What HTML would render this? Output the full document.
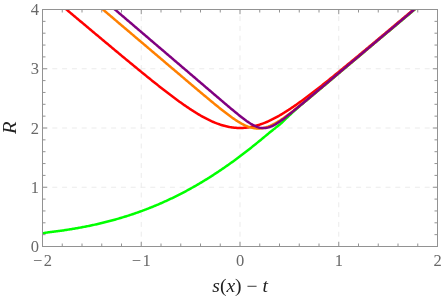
<!DOCTYPE html>
<html><head><meta charset="utf-8"><title>plot</title>
<style>
html,body{margin:0;padding:0;background:#ffffff;}
body{width:442px;height:301px;overflow:hidden;position:relative;font-family:"Liberation Serif",serif;}
</style></head><body>
<svg width="442" height="301" viewBox="0 0 442 301" style="position:absolute;left:0;top:0;will-change:transform">
<defs><clipPath id="c"><rect x="42.50" y="9.50" width="395.00" height="237.00"/></clipPath></defs>
<line x1="141.25" y1="246.50" x2="141.25" y2="9.50" stroke="#ebebeb" stroke-width="1" stroke-dasharray="5 4.8"/>
<line x1="240.00" y1="246.50" x2="240.00" y2="9.50" stroke="#ebebeb" stroke-width="1" stroke-dasharray="5 4.8"/>
<line x1="338.75" y1="246.50" x2="338.75" y2="9.50" stroke="#ebebeb" stroke-width="1" stroke-dasharray="5 4.8"/>
<line x1="42.50" y1="187.25" x2="437.50" y2="187.25" stroke="#ebebeb" stroke-width="1" stroke-dasharray="5 4.8"/>
<line x1="42.50" y1="128.00" x2="437.50" y2="128.00" stroke="#ebebeb" stroke-width="1" stroke-dasharray="5 4.8"/>
<line x1="42.50" y1="68.75" x2="437.50" y2="68.75" stroke="#ebebeb" stroke-width="1" stroke-dasharray="5 4.8"/>
<g clip-path="url(#c)" fill="none" stroke-width="2.50" stroke-linejoin="round">
<path d="M37.56,234.53 L38.55,234.29 L39.54,234.06 L40.53,233.84 L41.51,233.61 L42.50,233.40 L43.49,233.19 L44.48,232.99 L45.46,232.81 L46.45,232.64 L47.44,232.48 L48.43,232.33 L49.41,232.18 L50.40,232.04 L51.39,231.91 L52.38,231.78 L53.36,231.66 L54.35,231.53 L55.34,231.41 L56.33,231.29 L57.31,231.18 L58.30,231.05 L59.29,230.93 L60.28,230.81 L61.26,230.68 L62.25,230.54 L63.24,230.41 L64.23,230.26 L65.21,230.11 L66.20,229.95 L67.19,229.80 L68.18,229.64 L69.16,229.48 L70.15,229.32 L71.14,229.16 L72.12,229.00 L73.11,228.83 L74.10,228.67 L75.09,228.50 L76.08,228.33 L77.06,228.16 L78.05,227.98 L79.04,227.81 L80.03,227.63 L81.01,227.45 L82.00,227.26 L82.99,227.08 L83.98,226.89 L84.96,226.70 L85.95,226.51 L86.94,226.31 L87.92,226.11 L88.91,225.91 L89.90,225.70 L90.89,225.49 L91.88,225.28 L92.86,225.07 L93.85,224.85 L94.84,224.63 L95.83,224.41 L96.81,224.19 L97.80,223.96 L98.79,223.73 L99.78,223.50 L100.76,223.27 L101.75,223.03 L102.74,222.80 L103.73,222.56 L104.71,222.31 L105.70,222.07 L106.69,221.82 L107.68,221.57 L108.66,221.31 L109.65,221.05 L110.64,220.79 L111.63,220.53 L112.61,220.26 L113.60,219.99 L114.59,219.72 L115.58,219.44 L116.56,219.16 L117.55,218.88 L118.54,218.60 L119.53,218.31 L120.51,218.02 L121.50,217.72 L122.49,217.42 L123.48,217.12 L124.46,216.82 L125.45,216.51 L126.44,216.20 L127.42,215.88 L128.41,215.57 L129.40,215.25 L130.39,214.92 L131.38,214.60 L132.36,214.27 L133.35,213.94 L134.34,213.60 L135.32,213.26 L136.31,212.92 L137.30,212.57 L138.29,212.23 L139.27,211.88 L140.26,211.52 L141.25,211.17 L142.24,210.80 L143.23,210.44 L144.21,210.07 L145.20,209.70 L146.19,209.32 L147.18,208.95 L148.16,208.56 L149.15,208.18 L150.14,207.78 L151.12,207.39 L152.11,206.99 L153.10,206.59 L154.09,206.18 L155.07,205.78 L156.06,205.36 L157.05,204.95 L158.04,204.53 L159.02,204.10 L160.01,203.67 L161.00,203.24 L161.99,202.81 L162.97,202.37 L163.96,201.93 L164.95,201.48 L165.94,201.04 L166.93,200.58 L167.91,200.13 L168.90,199.67 L169.89,199.21 L170.88,198.74 L171.86,198.27 L172.85,197.80 L173.84,197.32 L174.82,196.84 L175.81,196.35 L176.80,195.86 L177.79,195.36 L178.77,194.87 L179.76,194.36 L180.75,193.86 L181.74,193.35 L182.72,192.83 L183.71,192.31 L184.70,191.79 L185.69,191.27 L186.68,190.74 L187.66,190.20 L188.65,189.67 L189.64,189.12 L190.62,188.58 L191.61,188.03 L192.60,187.48 L193.59,186.92 L194.57,186.36 L195.56,185.80 L196.55,185.23 L197.54,184.65 L198.52,184.08 L199.51,183.50 L200.50,182.91 L201.49,182.32 L202.47,181.73 L203.46,181.13 L204.45,180.53 L205.44,179.93 L206.42,179.32 L207.41,178.70 L208.40,178.09 L209.39,177.47 L210.38,176.84 L211.36,176.21 L212.35,175.58 L213.34,174.94 L214.32,174.30 L215.31,173.66 L216.30,173.01 L217.29,172.36 L218.27,171.70 L219.26,171.04 L220.25,170.38 L221.24,169.71 L222.22,169.04 L223.21,168.36 L224.20,167.68 L225.19,167.00 L226.17,166.31 L227.16,165.62 L228.15,164.93 L229.14,164.23 L230.12,163.53 L231.11,162.83 L232.10,162.12 L233.09,161.40 L234.07,160.69 L235.06,159.97 L236.05,159.25 L237.04,158.52 L238.03,157.79 L239.01,157.05 L240.00,156.31 L240.99,155.57 L241.97,154.82 L242.96,154.07 L243.95,153.32 L244.94,152.55 L245.93,151.79 L246.91,151.02 L247.90,150.25 L248.89,149.47 L249.87,148.70 L250.86,147.91 L251.85,147.13 L252.84,146.34 L253.82,145.54 L254.81,144.75 L255.80,143.95 L256.79,143.15 L257.77,142.35 L258.76,141.54 L259.75,140.73 L260.74,139.92 L261.72,139.11 L262.71,138.29 L263.70,137.48 L264.69,136.66 L265.67,135.84 L266.66,135.02 L267.65,134.20 L268.64,133.37 L269.62,132.55 L270.61,131.73 L271.60,130.93 L272.59,130.15 L273.57,129.38 L274.56,128.63 L275.55,127.87 L276.54,127.10 L277.52,126.32 L278.51,125.53 L279.50,124.71 L280.49,123.86 L281.48,122.97 L282.46,122.05 L283.45,121.11 L284.44,120.15 L285.43,119.18 L286.41,118.21 L287.40,117.24 L288.39,116.29 L289.38,115.37 L290.36,114.46 L291.35,113.57 L292.34,112.67 L293.32,111.78 L294.31,110.89 L295.30,110.00 L296.29,109.11 L297.27,108.23 L298.26,107.36 L299.25,106.51 L300.24,105.66 L301.22,104.83 L302.21,104.00 L303.20,103.17 L304.19,102.36 L305.17,101.54 L306.16,100.72 L307.15,99.91 L308.14,99.09 L309.12,98.26 L310.11,97.43 L311.10,96.60 L312.09,95.76 L313.07,94.93 L314.06,94.10 L315.05,93.27 L316.04,92.44 L317.02,91.61 L318.01,90.78 L319.00,89.96 L319.99,89.13 L320.97,88.30 L321.96,87.47 L322.95,86.65 L323.94,85.82 L324.92,84.99 L325.91,84.17 L326.90,83.34 L327.89,82.51 L328.88,81.68 L329.86,80.85 L330.85,80.02 L331.84,79.19 L332.82,78.36 L333.81,77.52 L334.80,76.69 L335.79,75.86 L336.77,75.02 L337.76,74.18 L338.75,73.34 L339.74,72.51 L340.72,71.67 L341.71,70.84 L342.70,70.01 L343.69,69.18 L344.67,68.35 L345.66,67.52 L346.65,66.69 L347.64,65.86 L348.62,65.04 L349.61,64.21 L350.60,63.39 L351.59,62.56 L352.57,61.74 L353.56,60.91 L354.55,60.08 L355.54,59.26 L356.52,58.43 L357.51,57.60 L358.50,56.77 L359.49,55.94 L360.47,55.10 L361.46,54.27 L362.45,53.43 L363.44,52.59 L364.42,51.75 L365.41,50.91 L366.40,50.07 L367.39,49.22 L368.38,48.38 L369.36,47.54 L370.35,46.71 L371.34,45.87 L372.32,45.03 L373.31,44.20 L374.30,43.37 L375.29,42.53 L376.27,41.70 L377.26,40.87 L378.25,40.05 L379.24,39.22 L380.22,38.40 L381.21,37.57 L382.20,36.75 L383.19,35.93 L384.17,35.11 L385.16,34.30 L386.15,33.48 L387.14,32.66 L388.12,31.84 L389.11,31.02 L390.10,30.19 L391.09,29.36 L392.07,28.54 L393.06,27.71 L394.05,26.88 L395.04,26.05 L396.02,25.22 L397.01,24.38 L398.00,23.55 L398.99,22.72 L399.97,21.89 L400.96,21.05 L401.95,20.22 L402.94,19.39 L403.92,18.56 L404.91,17.73 L405.90,16.90 L406.89,16.07 L407.88,15.24 L408.86,14.42 L409.85,13.59 L410.84,12.77 L411.82,11.95 L412.81,11.13 L413.80,10.30 L414.79,9.47 L415.77,8.63 L416.76,7.78 L417.75,6.93 L418.74,6.07 L419.72,5.21 L420.71,4.34 L421.70,3.47 L422.69,2.60 L423.67,1.72 L424.66,0.85 L425.65,-0.02 L426.64,-0.88 L427.62,-1.74 L428.61,-2.60 L429.60,-3.45 L430.59,-4.29 L431.57,-5.13 L432.56,-5.95 L433.55,-6.77 L434.54,-7.57 L435.52,-8.36 L436.51,-9.13 L437.50,-9.90 L438.49,-10.64 L439.47,-11.37 L440.46,-12.08 L441.45,-12.79 L442.44,-13.50" stroke="#00ff00"/>
<path d="M37.56,-14.77 L38.55,-13.93 L39.54,-13.10 L40.53,-12.27 L41.51,-11.44 L42.50,-10.61 L43.49,-9.78 L44.48,-8.95 L45.46,-8.12 L46.45,-7.29 L47.44,-6.46 L48.43,-5.63 L49.41,-4.80 L50.40,-3.97 L51.39,-3.14 L52.38,-2.31 L53.36,-1.48 L54.35,-0.65 L55.34,0.18 L56.33,1.01 L57.31,1.84 L58.30,2.67 L59.29,3.50 L60.28,4.33 L61.26,5.16 L62.25,5.99 L63.24,6.82 L64.23,7.65 L65.21,8.48 L66.20,9.31 L67.19,10.14 L68.18,10.97 L69.16,11.80 L70.15,12.63 L71.14,13.46 L72.12,14.29 L73.11,15.12 L74.10,15.95 L75.09,16.77 L76.08,17.60 L77.06,18.43 L78.05,19.26 L79.04,20.09 L80.03,20.92 L81.01,21.75 L82.00,22.58 L82.99,23.41 L83.98,24.24 L84.96,25.06 L85.95,25.89 L86.94,26.72 L87.92,27.55 L88.91,28.38 L89.90,29.20 L90.89,30.03 L91.88,30.86 L92.86,31.69 L93.85,32.52 L94.84,33.34 L95.83,34.17 L96.81,35.00 L97.80,35.82 L98.79,36.65 L99.78,37.48 L100.76,38.30 L101.75,39.13 L102.74,39.95 L103.73,40.78 L104.71,41.61 L105.70,42.43 L106.69,43.26 L107.68,44.08 L108.66,44.91 L109.65,45.73 L110.64,46.55 L111.63,47.38 L112.61,48.20 L113.60,49.02 L114.59,49.85 L115.58,50.67 L116.56,51.49 L117.55,52.31 L118.54,53.13 L119.53,53.96 L120.51,54.78 L121.50,55.60 L122.49,56.42 L123.48,57.23 L124.46,58.05 L125.45,58.87 L126.44,59.69 L127.42,60.51 L128.41,61.32 L129.40,62.14 L130.39,62.95 L131.38,63.77 L132.36,64.58 L133.35,65.40 L134.34,66.21 L135.32,67.02 L136.31,67.83 L137.30,68.64 L138.29,69.45 L139.27,70.26 L140.26,71.06 L141.25,71.87 L142.24,72.68 L143.23,73.48 L144.21,74.28 L145.20,75.09 L146.19,75.89 L147.18,76.69 L148.16,77.48 L149.15,78.28 L150.14,79.08 L151.12,79.87 L152.11,80.66 L153.10,81.45 L154.09,82.24 L155.07,83.03 L156.06,83.81 L157.05,84.60 L158.04,85.38 L159.02,86.16 L160.01,86.94 L161.00,87.71 L161.99,88.48 L162.97,89.25 L163.96,90.02 L164.95,90.79 L165.94,91.55 L166.93,92.31 L167.91,93.07 L168.90,93.82 L169.89,94.57 L170.88,95.32 L171.86,96.07 L172.85,96.81 L173.84,97.54 L174.82,98.28 L175.81,99.01 L176.80,99.73 L177.79,100.46 L178.77,101.17 L179.76,101.89 L180.75,102.59 L181.74,103.30 L182.72,104.00 L183.71,104.69 L184.70,105.38 L185.69,106.06 L186.68,106.73 L187.66,107.40 L188.65,108.07 L189.64,108.73 L190.62,109.38 L191.61,110.02 L192.60,110.66 L193.59,111.29 L194.57,111.91 L195.56,112.53 L196.55,113.13 L197.54,113.73 L198.52,114.32 L199.51,114.91 L200.50,115.48 L201.49,116.04 L202.47,116.60 L203.46,117.14 L204.45,117.67 L205.44,118.20 L206.42,118.71 L207.41,119.21 L208.40,119.70 L209.39,120.18 L210.38,120.65 L211.36,121.11 L212.35,121.55 L213.34,121.98 L214.32,122.40 L215.31,122.80 L216.30,123.20 L217.29,123.57 L218.27,123.94 L219.26,124.29 L220.25,124.62 L221.24,124.94 L222.22,125.25 L223.21,125.54 L224.20,125.82 L225.19,126.08 L226.17,126.32 L227.16,126.55 L228.15,126.76 L229.14,126.96 L230.12,127.14 L231.11,127.30 L232.10,127.45 L233.09,127.58 L234.07,127.69 L235.06,127.78 L236.05,127.86 L237.04,127.92 L238.03,127.97 L239.01,127.99 L240.00,128.00 L240.99,127.99 L241.97,127.97 L242.96,127.92 L243.95,127.86 L244.94,127.78 L245.93,127.69 L246.91,127.58 L247.90,127.45 L248.89,127.30 L249.87,127.14 L250.86,126.96 L251.85,126.76 L252.84,126.55 L253.82,126.32 L254.81,126.08 L255.80,125.82 L256.79,125.54 L257.77,125.25 L258.76,124.94 L259.75,124.62 L260.74,124.29 L261.72,123.94 L262.71,123.57 L263.70,123.20 L264.69,122.80 L265.67,122.40 L266.66,121.98 L267.65,121.55 L268.64,121.11 L269.62,120.65 L270.61,120.18 L271.60,119.70 L272.59,119.21 L273.57,118.71 L274.56,118.20 L275.55,117.67 L276.54,117.14 L277.52,116.60 L278.51,116.04 L279.50,115.48 L280.49,114.91 L281.48,114.32 L282.46,113.73 L283.45,113.13 L284.44,112.53 L285.43,111.91 L286.41,111.29 L287.40,110.66 L288.39,110.02 L289.38,109.38 L290.36,108.73 L291.35,108.07 L292.34,107.40 L293.32,106.73 L294.31,106.06 L295.30,105.38 L296.29,104.69 L297.27,104.00 L298.26,103.30 L299.25,102.59 L300.24,101.89 L301.22,101.17 L302.21,100.46 L303.20,99.73 L304.19,99.01 L305.17,98.28 L306.16,97.54 L307.15,96.81 L308.14,96.07 L309.12,95.32 L310.11,94.57 L311.10,93.82 L312.09,93.07 L313.07,92.31 L314.06,91.55 L315.05,90.79 L316.04,90.02 L317.02,89.25 L318.01,88.48 L319.00,87.71 L319.99,86.94 L320.97,86.16 L321.96,85.38 L322.95,84.60 L323.94,83.81 L324.92,83.03 L325.91,82.24 L326.90,81.45 L327.89,80.66 L328.88,79.87 L329.86,79.08 L330.85,78.28 L331.84,77.48 L332.82,76.69 L333.81,75.89 L334.80,75.09 L335.79,74.28 L336.77,73.48 L337.76,72.68 L338.75,71.87 L339.74,71.06 L340.72,70.26 L341.71,69.45 L342.70,68.64 L343.69,67.83 L344.67,67.02 L345.66,66.21 L346.65,65.40 L347.64,64.58 L348.62,63.77 L349.61,62.95 L350.60,62.14 L351.59,61.32 L352.57,60.51 L353.56,59.69 L354.55,58.87 L355.54,58.05 L356.52,57.23 L357.51,56.42 L358.50,55.60 L359.49,54.78 L360.47,53.96 L361.46,53.13 L362.45,52.31 L363.44,51.49 L364.42,50.67 L365.41,49.85 L366.40,49.02 L367.39,48.20 L368.38,47.38 L369.36,46.55 L370.35,45.73 L371.34,44.91 L372.32,44.08 L373.31,43.26 L374.30,42.43 L375.29,41.61 L376.27,40.78 L377.26,39.95 L378.25,39.13 L379.24,38.30 L380.22,37.48 L381.21,36.65 L382.20,35.82 L383.19,35.00 L384.17,34.17 L385.16,33.34 L386.15,32.52 L387.14,31.69 L388.12,30.86 L389.11,30.03 L390.10,29.20 L391.09,28.38 L392.07,27.55 L393.06,26.72 L394.05,25.89 L395.04,25.06 L396.02,24.24 L397.01,23.41 L398.00,22.58 L398.99,21.75 L399.97,20.92 L400.96,20.09 L401.95,19.26 L402.94,18.43 L403.92,17.60 L404.91,16.77 L405.90,15.95 L406.89,15.12 L407.88,14.29 L408.86,13.46 L409.85,12.63 L410.84,11.80 L411.82,10.97 L412.81,10.14 L413.80,9.31 L414.79,8.48 L415.77,7.65 L416.76,6.82 L417.75,5.99 L418.74,5.16 L419.72,4.33 L420.71,3.50 L421.70,2.67 L422.69,1.84 L423.67,1.01 L424.66,0.18 L425.65,-0.65 L426.64,-1.48 L427.62,-2.31 L428.61,-3.14 L429.60,-3.97 L430.59,-4.80 L431.57,-5.63 L432.56,-6.46 L433.55,-7.29 L434.54,-8.12 L435.52,-8.95 L436.51,-9.78 L437.50,-10.61 L438.49,-11.44 L439.47,-12.27 L440.46,-13.10 L441.45,-13.93 L442.44,-14.77" stroke="#ff0000"/>
<path d="M67.68,-20.42 L68.67,-19.58 L69.66,-18.75 L70.64,-17.91 L71.63,-17.07 L72.62,-16.23 L73.61,-15.39 L74.59,-14.55 L75.58,-13.71 L76.57,-12.88 L77.56,-12.04 L78.54,-11.20 L79.53,-10.36 L80.52,-9.52 L81.51,-8.68 L82.49,-7.84 L83.48,-7.01 L84.47,-6.17 L85.46,-5.33 L86.44,-4.49 L87.43,-3.65 L88.42,-2.81 L89.41,-1.97 L90.39,-1.14 L91.38,-0.30 L92.37,0.54 L93.36,1.38 L94.34,2.22 L95.33,3.06 L96.32,3.89 L97.31,4.73 L98.29,5.57 L99.28,6.41 L100.27,7.25 L101.26,8.09 L102.24,8.93 L103.23,9.76 L104.22,10.60 L105.21,11.44 L106.19,12.28 L107.18,13.12 L108.17,13.96 L109.16,14.80 L110.14,15.63 L111.13,16.47 L112.12,17.31 L113.11,18.15 L114.09,18.99 L115.08,19.83 L116.07,20.67 L117.06,21.50 L118.04,22.34 L119.03,23.18 L120.02,24.02 L121.01,24.86 L121.99,25.70 L122.98,26.53 L123.97,27.37 L124.96,28.21 L125.94,29.05 L126.93,29.89 L127.92,30.73 L128.91,31.57 L129.89,32.40 L130.88,33.24 L131.87,34.08 L132.86,34.92 L133.84,35.76 L134.83,36.60 L135.82,37.44 L136.81,38.27 L137.79,39.11 L138.78,39.95 L139.77,40.79 L140.76,41.63 L141.74,42.47 L142.73,43.30 L143.72,44.14 L144.71,44.98 L145.69,45.82 L146.68,46.66 L147.67,47.50 L148.66,48.34 L149.64,49.17 L150.63,50.01 L151.62,50.85 L152.61,51.69 L153.59,52.53 L154.58,53.37 L155.57,54.20 L156.56,55.04 L157.54,55.88 L158.53,56.72 L159.52,57.56 L160.51,58.40 L161.49,59.23 L162.48,60.07 L163.47,60.91 L164.46,61.75 L165.44,62.59 L166.43,63.43 L167.42,64.26 L168.41,65.10 L169.39,65.94 L170.38,66.78 L171.37,67.62 L172.36,68.45 L173.34,69.29 L174.33,70.13 L175.32,70.97 L176.31,71.81 L177.29,72.64 L178.28,73.48 L179.27,74.32 L180.26,75.15 L181.24,75.99 L182.23,76.83 L183.22,77.67 L184.21,78.50 L185.19,79.34 L186.18,80.18 L187.17,81.01 L188.16,81.85 L189.14,82.68 L190.13,83.52 L191.12,84.35 L192.11,85.19 L193.09,86.02 L194.08,86.86 L195.07,87.69 L196.06,88.53 L197.04,89.36 L198.03,90.19 L199.02,91.02 L200.01,91.85 L200.99,92.68 L201.98,93.51 L202.97,94.34 L203.96,95.17 L204.94,96.00 L205.93,96.82 L206.92,97.65 L207.91,98.47 L208.89,99.29 L209.88,100.11 L210.87,100.93 L211.86,101.75 L212.84,102.56 L213.83,103.37 L214.82,104.18 L215.81,104.99 L216.79,105.79 L217.78,106.59 L218.77,107.39 L219.76,108.18 L220.74,108.97 L221.73,109.76 L222.72,110.54 L223.71,111.31 L224.69,112.08 L225.68,112.84 L226.67,113.60 L227.66,114.34 L228.64,115.08 L229.63,115.81 L230.62,116.53 L231.61,117.24 L232.59,117.94 L233.58,118.63 L234.57,119.30 L235.56,119.96 L236.54,120.61 L237.53,121.24 L238.52,121.85 L239.51,122.44 L240.49,123.01 L241.48,123.57 L242.47,124.09 L243.46,124.60 L244.44,125.08 L245.43,125.54 L246.42,125.96 L247.41,126.36 L248.39,126.73 L249.38,127.07 L250.37,127.37 L251.36,127.64 L252.34,127.87 L253.33,128.07 L254.32,128.24 L255.31,128.36 L256.29,128.45 L257.28,128.50 L258.27,128.52 L259.26,128.49 L260.24,128.43 L261.23,128.33 L262.22,128.19 L263.21,128.01 L264.19,127.80 L265.18,127.56 L266.17,127.28 L267.16,126.96 L268.14,126.62 L269.13,126.24 L270.12,125.84 L271.11,125.40 L272.09,124.94 L273.08,124.45 L274.07,123.94 L275.06,123.41 L276.04,122.85 L277.03,122.27 L278.02,121.68 L279.01,121.06 L279.99,120.43 L280.98,119.79 L281.97,119.13 L282.96,118.45 L283.94,117.77 L284.93,117.07 L285.92,116.36 L286.91,115.64 L287.89,114.91 L288.88,114.17 L289.87,113.43 L290.86,112.68 L291.84,111.92 L292.83,111.15 L293.82,110.38 L294.81,109.61 L295.79,108.82 L296.78,108.04 L297.77,107.25 L298.76,106.46 L299.74,105.66 L300.73,104.86 L301.72,104.06 L302.71,103.25 L303.69,102.45 L304.68,101.64 L305.67,100.83 L306.66,100.01 L307.64,99.20 L308.63,98.38 L309.62,97.56 L310.61,96.75 L311.59,95.93 L312.58,95.10 L313.57,94.28 L314.56,93.46 L315.54,92.63 L316.53,91.81 L317.52,90.98 L318.51,90.16 L319.49,89.33 L320.48,88.51 L321.47,87.68 L322.46,86.85 L323.44,86.02 L324.43,85.19 L325.42,84.36 L326.41,83.53 L327.39,82.70 L328.38,81.87 L329.37,81.04 L330.36,80.21 L331.34,79.38 L332.33,78.55 L333.32,77.72 L334.31,76.89 L335.29,76.06 L336.28,75.23 L337.27,74.40 L338.26,73.57 L339.24,72.73 L340.23,71.90 L341.22,71.07 L342.21,70.24 L343.19,69.41 L344.18,68.58 L345.17,67.74 L346.16,66.91 L347.14,66.08 L348.13,65.25 L349.12,64.42 L350.11,63.58 L351.09,62.75 L352.08,61.92 L353.07,61.09 L354.06,60.25 L355.04,59.42 L356.03,58.59 L357.02,57.76 L358.01,56.93 L358.99,56.09 L359.98,55.26 L360.97,54.43 L361.96,53.60 L362.94,52.76 L363.93,51.93 L364.92,51.10 L365.91,50.27 L366.89,49.43 L367.88,48.60 L368.87,47.77 L369.86,46.94 L370.84,46.10 L371.83,45.27 L372.82,44.44 L373.81,43.61 L374.79,42.77 L375.78,41.94 L376.77,41.11 L377.76,40.28 L378.74,39.44 L379.73,38.61 L380.72,37.78 L381.71,36.95 L382.69,36.11 L383.68,35.28 L384.67,34.45 L385.66,33.62 L386.64,32.78 L387.63,31.95 L388.62,31.12 L389.61,30.29 L390.59,29.45 L391.58,28.62 L392.57,27.79 L393.56,26.96 L394.54,26.12 L395.53,25.29 L396.52,24.46 L397.51,23.63 L398.49,22.79 L399.48,21.96 L400.47,21.13 L401.46,20.30 L402.44,19.46 L403.43,18.63 L404.42,17.80 L405.41,16.97 L406.39,16.13 L407.38,15.30 L408.37,14.47 L409.36,13.64 L410.34,12.80 L411.33,11.97 L412.32,11.14 L413.31,10.31 L414.29,9.47 L415.28,8.64 L416.27,7.81 L417.26,6.98 L418.24,6.14 L419.23,5.31 L420.22,4.48 L421.21,3.65 L422.19,2.81 L423.18,1.98 L424.17,1.15 L425.16,0.32 L426.14,-0.52 L427.13,-1.35 L428.12,-2.18 L429.11,-3.01 L430.09,-3.85 L431.08,-4.68 L432.07,-5.51 L433.06,-6.34 L434.04,-7.18 L435.03,-8.01 L436.02,-8.84 L437.01,-9.67 L437.99,-10.51 L438.98,-11.34 L439.97,-12.17 L440.96,-13.00 L441.94,-13.84" stroke="#ff8000"/>
<path d="M80.03,-20.32 L81.01,-19.48 L82.00,-18.63 L82.99,-17.79 L83.98,-16.94 L84.96,-16.10 L85.95,-15.26 L86.94,-14.41 L87.92,-13.57 L88.91,-12.72 L89.90,-11.88 L90.89,-11.04 L91.88,-10.19 L92.86,-9.35 L93.85,-8.50 L94.84,-7.66 L95.83,-6.82 L96.81,-5.97 L97.80,-5.13 L98.79,-4.28 L99.78,-3.44 L100.76,-2.60 L101.75,-1.75 L102.74,-0.91 L103.73,-0.07 L104.71,0.78 L105.70,1.62 L106.69,2.47 L107.68,3.31 L108.66,4.15 L109.65,5.00 L110.64,5.84 L111.63,6.69 L112.61,7.53 L113.60,8.37 L114.59,9.22 L115.58,10.06 L116.56,10.91 L117.55,11.75 L118.54,12.59 L119.53,13.44 L120.51,14.28 L121.50,15.13 L122.49,15.97 L123.48,16.81 L124.46,17.66 L125.45,18.50 L126.44,19.34 L127.42,20.19 L128.41,21.03 L129.40,21.88 L130.39,22.72 L131.38,23.56 L132.36,24.41 L133.35,25.25 L134.34,26.10 L135.32,26.94 L136.31,27.78 L137.30,28.63 L138.29,29.47 L139.27,30.32 L140.26,31.16 L141.25,32.00 L142.24,32.85 L143.23,33.69 L144.21,34.54 L145.20,35.38 L146.19,36.22 L147.18,37.07 L148.16,37.91 L149.15,38.75 L150.14,39.60 L151.12,40.44 L152.11,41.29 L153.10,42.13 L154.09,42.97 L155.07,43.82 L156.06,44.66 L157.05,45.51 L158.04,46.35 L159.02,47.19 L160.01,48.04 L161.00,48.88 L161.99,49.73 L162.97,50.57 L163.96,51.41 L164.95,52.26 L165.94,53.10 L166.93,53.95 L167.91,54.79 L168.90,55.63 L169.89,56.48 L170.88,57.32 L171.86,58.16 L172.85,59.01 L173.84,59.85 L174.82,60.70 L175.81,61.54 L176.80,62.38 L177.79,63.23 L178.77,64.07 L179.76,64.92 L180.75,65.76 L181.74,66.60 L182.72,67.45 L183.71,68.29 L184.70,69.14 L185.69,69.98 L186.68,70.82 L187.66,71.67 L188.65,72.51 L189.64,73.36 L190.62,74.20 L191.61,75.04 L192.60,75.89 L193.59,76.73 L194.57,77.57 L195.56,78.42 L196.55,79.26 L197.54,80.11 L198.52,80.95 L199.51,81.79 L200.50,82.64 L201.49,83.48 L202.47,84.32 L203.46,85.17 L204.45,86.01 L205.44,86.85 L206.42,87.70 L207.41,88.54 L208.40,89.38 L209.39,90.23 L210.38,91.07 L211.36,91.91 L212.35,92.76 L213.34,93.60 L214.32,94.44 L215.31,95.28 L216.30,96.13 L217.29,96.97 L218.27,97.81 L219.26,98.65 L220.25,99.49 L221.24,100.33 L222.22,101.17 L223.21,102.01 L224.20,102.85 L225.19,103.68 L226.17,104.52 L227.16,105.35 L228.15,106.19 L229.14,107.02 L230.12,107.85 L231.11,108.68 L232.10,109.50 L233.09,110.32 L234.07,111.14 L235.06,111.96 L236.05,112.77 L237.04,113.58 L238.03,114.38 L239.01,115.18 L240.00,115.97 L240.99,116.75 L241.97,117.52 L242.96,118.28 L243.95,119.03 L244.94,119.77 L245.93,120.49 L246.91,121.20 L247.90,121.88 L248.89,122.55 L249.87,123.19 L250.86,123.81 L251.85,124.39 L252.84,124.95 L253.82,125.47 L254.81,125.95 L255.80,126.39 L256.79,126.79 L257.77,127.14 L258.76,127.43 L259.75,127.68 L260.74,127.87 L261.72,128.01 L262.71,128.09 L263.70,128.11 L264.69,128.07 L265.67,127.97 L266.66,127.82 L267.65,127.61 L268.64,127.35 L269.62,127.04 L270.61,126.67 L271.60,126.27 L272.59,125.82 L273.57,125.33 L274.56,124.80 L275.55,124.24 L276.54,123.65 L277.52,123.03 L278.51,122.39 L279.50,121.73 L280.49,121.04 L281.48,120.34 L282.46,119.62 L283.45,118.89 L284.44,118.15 L285.43,117.40 L286.41,116.63 L287.40,115.86 L288.39,115.08 L289.38,114.29 L290.36,113.50 L291.35,112.70 L292.34,111.90 L293.32,111.10 L294.31,110.29 L295.30,109.48 L296.29,108.66 L297.27,107.85 L298.26,107.03 L299.25,106.21 L300.24,105.39 L301.22,104.57 L302.21,103.74 L303.20,102.92 L304.19,102.09 L305.17,101.27 L306.16,100.44 L307.15,99.61 L308.14,98.79 L309.12,97.96 L310.11,97.13 L311.10,96.30 L312.09,95.47 L313.07,94.64 L314.06,93.81 L315.05,92.98 L316.04,92.15 L317.02,91.32 L318.01,90.49 L319.00,89.66 L319.99,88.83 L320.97,88.00 L321.96,87.17 L322.95,86.34 L323.94,85.51 L324.92,84.68 L325.91,83.85 L326.90,83.02 L327.89,82.19 L328.88,81.36 L329.86,80.53 L330.85,79.70 L331.84,78.86 L332.82,78.03 L333.81,77.20 L334.80,76.37 L335.79,75.54 L336.77,74.71 L337.76,73.88 L338.75,73.05 L339.74,72.22 L340.72,71.39 L341.71,70.56 L342.70,69.72 L343.69,68.89 L344.67,68.06 L345.66,67.23 L346.65,66.40 L347.64,65.57 L348.62,64.74 L349.61,63.91 L350.60,63.08 L351.59,62.25 L352.57,61.42 L353.56,60.58 L354.55,59.75 L355.54,58.92 L356.52,58.09 L357.51,57.26 L358.50,56.43 L359.49,55.60 L360.47,54.77 L361.46,53.94 L362.45,53.11 L363.44,52.28 L364.42,51.44 L365.41,50.61 L366.40,49.78 L367.39,48.95 L368.38,48.12 L369.36,47.29 L370.35,46.46 L371.34,45.63 L372.32,44.80 L373.31,43.97 L374.30,43.13 L375.29,42.30 L376.27,41.47 L377.26,40.64 L378.25,39.81 L379.24,38.98 L380.22,38.15 L381.21,37.32 L382.20,36.49 L383.19,35.66 L384.17,34.83 L385.16,33.99 L386.15,33.16 L387.14,32.33 L388.12,31.50 L389.11,30.67 L390.10,29.84 L391.09,29.01 L392.07,28.18 L393.06,27.35 L394.05,26.52 L395.04,25.69 L396.02,24.85 L397.01,24.02 L398.00,23.19 L398.99,22.36 L399.97,21.53 L400.96,20.70 L401.95,19.87 L402.94,19.04 L403.92,18.21 L404.91,17.38 L405.90,16.54 L406.89,15.71 L407.88,14.88 L408.86,14.05 L409.85,13.22 L410.84,12.39 L411.82,11.56 L412.81,10.73 L413.80,9.90 L414.79,9.07 L415.77,8.24 L416.76,7.40 L417.75,6.57 L418.74,5.74 L419.72,4.91 L420.71,4.08 L421.70,3.25 L422.69,2.42 L423.67,1.59 L424.66,0.76 L425.65,-0.07 L426.64,-0.90 L427.62,-1.74 L428.61,-2.57 L429.60,-3.40 L430.59,-4.23 L431.57,-5.06 L432.56,-5.89 L433.55,-6.72 L434.54,-7.55 L435.52,-8.38 L436.51,-9.21 L437.50,-10.05 L438.49,-10.88 L439.47,-11.71 L440.46,-12.54 L441.45,-13.37 L442.44,-14.20" stroke="#800080"/>
</g>
<g stroke="#929292" stroke-width="1.00" fill="none">
<rect x="42.50" y="9.50" width="395.00" height="237.00"/>
<path d="M42.50,246.50v-4.70M42.50,9.50v4.70M62.25,246.50v-3.00M62.25,9.50v3.00M82.00,246.50v-3.00M82.00,9.50v3.00M101.75,246.50v-3.00M101.75,9.50v3.00M121.50,246.50v-3.00M121.50,9.50v3.00M141.25,246.50v-4.70M141.25,9.50v4.70M161.00,246.50v-3.00M161.00,9.50v3.00M180.75,246.50v-3.00M180.75,9.50v3.00M200.50,246.50v-3.00M200.50,9.50v3.00M220.25,246.50v-3.00M220.25,9.50v3.00M240.00,246.50v-4.70M240.00,9.50v4.70M259.75,246.50v-3.00M259.75,9.50v3.00M279.50,246.50v-3.00M279.50,9.50v3.00M299.25,246.50v-3.00M299.25,9.50v3.00M319.00,246.50v-3.00M319.00,9.50v3.00M338.75,246.50v-4.70M338.75,9.50v4.70M358.50,246.50v-3.00M358.50,9.50v3.00M378.25,246.50v-3.00M378.25,9.50v3.00M398.00,246.50v-3.00M398.00,9.50v3.00M417.75,246.50v-3.00M417.75,9.50v3.00M437.50,246.50v-4.70M437.50,9.50v4.70M42.50,246.50h4.70M437.50,246.50h-4.70M42.50,234.65h3.00M437.50,234.65h-3.00M42.50,222.80h3.00M437.50,222.80h-3.00M42.50,210.95h3.00M437.50,210.95h-3.00M42.50,199.10h3.00M437.50,199.10h-3.00M42.50,187.25h4.70M437.50,187.25h-4.70M42.50,175.40h3.00M437.50,175.40h-3.00M42.50,163.55h3.00M437.50,163.55h-3.00M42.50,151.70h3.00M437.50,151.70h-3.00M42.50,139.85h3.00M437.50,139.85h-3.00M42.50,128.00h4.70M437.50,128.00h-4.70M42.50,116.15h3.00M437.50,116.15h-3.00M42.50,104.30h3.00M437.50,104.30h-3.00M42.50,92.45h3.00M437.50,92.45h-3.00M42.50,80.60h3.00M437.50,80.60h-3.00M42.50,68.75h4.70M437.50,68.75h-4.70M42.50,56.90h3.00M437.50,56.90h-3.00M42.50,45.05h3.00M437.50,45.05h-3.00M42.50,33.20h3.00M437.50,33.20h-3.00M42.50,21.35h3.00M437.50,21.35h-3.00M42.50,9.50h4.70M437.50,9.50h-4.70"/>
</g>
<g font-family="'Liberation Serif', serif" font-size="16.5" fill="#686868">
<text x="42.50" y="266.00" text-anchor="middle">−<tspan dx="1.3">2</tspan></text>
<text x="141.25" y="266.00" text-anchor="middle">−<tspan dx="1.3">1</tspan></text>
<text x="240.00" y="266.00" text-anchor="middle">0</text>
<text x="338.75" y="266.00" text-anchor="middle">1</text>
<text x="437.50" y="266.00" text-anchor="middle">2</text>
<text x="38.90" y="252.10" text-anchor="end">0</text>
<text x="38.90" y="192.85" text-anchor="end">1</text>
<text x="38.90" y="133.60" text-anchor="end">2</text>
<text x="38.90" y="74.35" text-anchor="end">3</text>
<text x="38.90" y="15.10" text-anchor="end">4</text>
</g>
<g font-family="'Liberation Serif', serif" font-size="18.0" fill="#222222" font-style="italic">
<text x="240.1" y="292.40" text-anchor="middle" textLength="55.6" lengthAdjust="spacingAndGlyphs">s<tspan font-style="normal">(</tspan>x<tspan font-style="normal">) − </tspan>t</text>
<text transform="translate(16.00,127.8) rotate(-90) scale(1.08,1)" text-anchor="middle" font-size="19">R</text>
</g>
</svg>
</body></html>
